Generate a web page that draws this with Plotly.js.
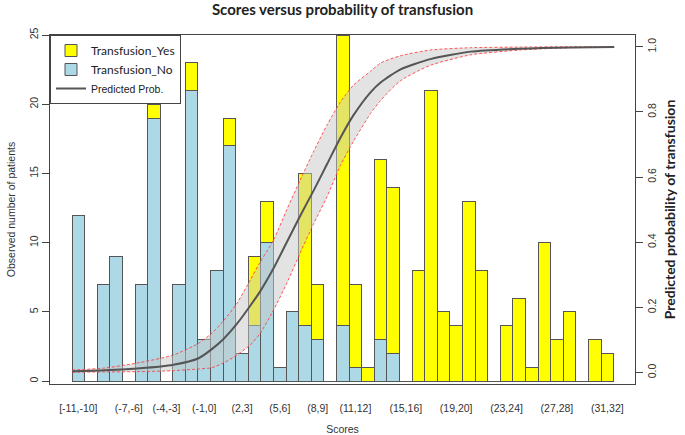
<!DOCTYPE html>
<html>
<head>
<meta charset="utf-8">
<script src="https://cdn.plot.ly/plotly-3.0.1.min.js"></script>
<style>
  html, body { margin: 0; padding: 0; background: #fff; }
  #plot { width: 685px; height: 435px; }
</style>
</head>
<body>
<div id="plot"></div>
<script>
// score bins, one bar each
const scoreLabels = [
    '[-11,-10]', '(-10,-9]', '(-9,-8]', '(-8,-7]', '(-7,-6]', '(-6,-5]', '(-5,-4]', '(-4,-3]',
    '(-3,-2]', '(-2,-1]', '(-1,0]', '(0,1]', '(1,2]', '(2,3]', '(3,4]', '(4,5]', '(5,6]',
    '(6,7]', '(7,8]', '(8,9]', '(9,10]', '(10,11]', '(11,12]', '(12,13]', '(13,14]', '(14,15]',
    '(15,16]', '(16,17]', '(17,18]', '(18,19]', '(19,20]', '(20,21]', '(21,22]', '(22,23]',
    '(23,24]', '(24,25]', '(25,26]', '(26,27]', '(27,28]', '(28,29]', '(29,30]', '(30,31]', '(31,32]'
];

// labels that R managed to print under the bars
const shownLabels = ['[-11,-10]', '(-7,-6]', '(-4,-3]', '(-1,0]', '(2,3]', '(5,6]', '(8,9]',
    '(11,12]', '(15,16]', '(19,20]', '(23,24]', '(27,28]', '(31,32]'];

// observed counts per bin
const transfusionNo = [12, 0, 7, 9, 0, 7, 19, 0, 7, 21, 3, 8, 17, 2, 4, 10, 1, 5, 4, 3, 0, 4,
    1, 0, 3, 2, 0, 0, 0, 0, 0, 0, 0, 0, 0, 0, 0, 0, 0, 0, 0, 0, 0];
const transfusionYes = [0, 0, 0, 0, 0, 0, 1, 0, 0, 2, 0, 0, 2, 0, 5, 3, 0, 0, 11, 4, 0, 21,
    6, 1, 13, 12, 0, 8, 21, 5, 4, 13, 8, 0, 4, 6, 1, 10, 3, 5, 0, 3, 2];

// predicted probability curve (x in bin units) with its band
const curveX = [-0.5, 2.1, 4.9, 7.55, 9.55, 10.6, 11.55, 12.6, 13.65, 14.45, 15.5, 16.55,
    17.6, 18.7, 19.75, 20.8, 21.85, 23.2, 24.0, 25.55, 27.95, 31.15, 35.1, 39.1, 42.55];
const predProb = [0.004, 0.007, 0.013, 0.024, 0.044, 0.072, 0.104, 0.15, 0.205, 0.25,
    0.32, 0.4, 0.48, 0.56, 0.64, 0.72, 0.79, 0.86, 0.89, 0.93, 0.962, 0.985,
    0.994, 0.998, 0.999];
const probUpper = [0.008, 0.014, 0.031, 0.054, 0.09, 0.121, 0.16, 0.213, 0.284, 0.34,
    0.407, 0.5, 0.59, 0.68, 0.76, 0.83, 0.882, 0.925, 0.95, 0.972, 0.99, 0.997,
    0.999, 1.0, 1.0];
const probLower = [0.001, 0.002, 0.003, 0.006, 0.011, 0.015, 0.03, 0.054, 0.085, 0.121,
    0.192, 0.274, 0.366, 0.458, 0.54, 0.635, 0.71, 0.795, 0.835, 0.895, 0.943, 0.975,
    0.99, 0.997, 0.998];

const binIndex = scoreLabels.map((s, i) => i);
const tickPos = shownLabels.map(s => scoreLabels.indexOf(s));

const axisFont = { family: 'Liberation Sans, Arial, sans-serif', size: 10.5, color: '#333' };
const barLine = { color: '#555', width: 1 };
const bandLine = { color: 'rgba(255,50,50,0.8)', width: 1, dash: '3px,2px', shape: 'spline', smoothing: 0.6 };

var traceNo = {
    type: 'bar',
    x: binIndex,
    y: transfusionNo,
    name: 'Transfusion_No',
    legendrank: 2,
    marker: { color: '#add8e6', line: barLine },
    width: 1,
    hoverinfo: 'skip'
};
var traceYes = {
    type: 'bar',
    x: binIndex,
    y: transfusionYes,
    name: 'Transfusion_Yes',
    legendrank: 1,
    marker: { color: '#ffff00', line: barLine },
    width: 1,
    hoverinfo: 'skip'
};
// band: lower edge first, then upper edge filled down to it
var traceLower = {
    type: 'scatter',
    mode: 'lines',
    x: curveX,
    y: probLower,
    yaxis: 'y2',
    line: bandLine,
    showlegend: false,
    hoverinfo: 'skip'
};
var traceUpper = {
    type: 'scatter',
    mode: 'lines',
    x: curveX,
    y: probUpper,
    yaxis: 'y2',
    fill: 'tonexty',
    fillcolor: 'rgba(200,200,200,0.5)',
    line: bandLine,
    showlegend: false,
    hoverinfo: 'skip'
};
var tracePred = {
    type: 'scatter',
    mode: 'lines',
    x: curveX,
    y: predProb,
    yaxis: 'y2',
    name: '<span style="font-family:Liberation Sans, Arial;font-size:10.5px">Predicted Prob.</span>',
    legendrank: 3,
    line: { color: '#555', width: 2, shape: 'spline', smoothing: 0.6 },
    hoverinfo: 'skip'
};

var layout = {
    width: 685,
    height: 435,
    margin: { l: 50, r: 50, t: 35, b: 51 },
    paper_bgcolor: '#fff',
    plot_bgcolor: '#fff',
    barmode: 'stack',
    bargap: 0,
    showlegend: true,
    title: {
        text: '<b>Scores versus probability of transfusion</b>',
        font: { family: 'Lato, Open Sans, sans-serif', size: 15, color: '#222' },
        x: 0.5,
        xanchor: 'center',
        y: 0.977,
        yanchor: 'middle'
    },
    legend: {
        x: 0, y: 1, xanchor: 'left', yanchor: 'top',
        traceorder: 'normal',
        bgcolor: '#fff',
        bordercolor: '#444',
        borderwidth: 1,
        font: { family: 'Lato, Open Sans, sans-serif', size: 12, color: '#222' },
        tracegroupgap: 0,
        itemwidth: 30
    },
    xaxis: {
        range: [-2.25, 44.2],
        showgrid: false,
        zeroline: false,
        showline: true,
        mirror: true,
        linecolor: '#444',
        linewidth: 1,
        tickmode: 'array',
        tickvals: tickPos,
        ticktext: shownLabels,
        ticks: 'outside',
        ticklen: 14,
        tickcolor: 'rgba(0,0,0,0)',
        tickfont: axisFont,
        title: { text: 'Scores', font: axisFont, standoff: 13 }
    },
    yaxis: {
        range: [-0.2, 25],
        showgrid: false,
        zeroline: false,
        showline: true,
        linecolor: '#444',
        linewidth: 1,
        tickmode: 'array',
        tickvals: [0, 5, 10, 15, 20, 25],
        ticks: 'outside',
        ticklen: 7,
        tickcolor: '#444',
        tickangle: -90,
        tickfont: axisFont,
        title: { text: 'Observed number of patients', font: axisFont, standoff: 10 }
    },
    yaxis2: {
        overlaying: 'y',
        side: 'right',
        range: [-0.035, 1.036],
        showgrid: false,
        zeroline: false,
        showline: true,
        linecolor: '#444',
        linewidth: 1,
        tickmode: 'array',
        tickvals: [0, 0.2, 0.4, 0.6, 0.8, 1.0],
        ticktext: ['0.0', '0.2', '0.4', '0.6', '0.8', '1.0'],
        ticks: 'outside',
        ticklen: 7,
        tickcolor: '#444',
        tickangle: -90,
        tickfont: axisFont,
        title: {
            text: '<b>Predicted probability of transfusion</b>',
            font: { family: 'Lato, Open Sans, sans-serif', size: 14, color: '#222' },
            standoff: 8
        }
    }
};

Plotly.newPlot('plot', [traceNo, traceYes, traceLower, traceUpper, tracePred], layout,
    { staticPlot: true, displayModeBar: false });
</script>
</body>
</html>
